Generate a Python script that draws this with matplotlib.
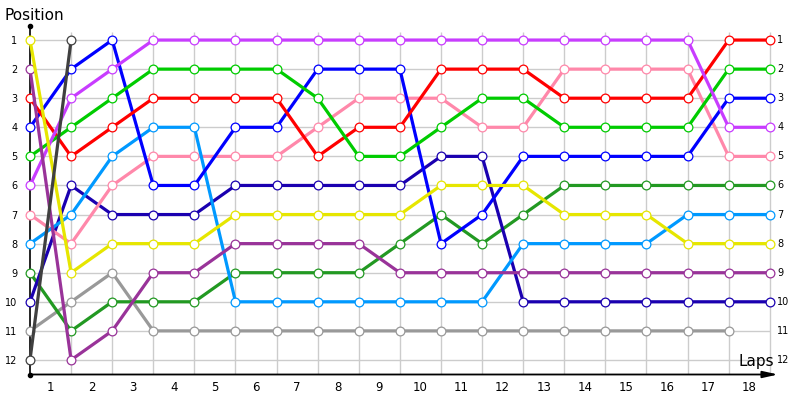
import numpy as np
import matplotlib
matplotlib.use('Agg')
import matplotlib.pyplot as plt

nan = np.nan

# lap 0 = grid position, then position at end of each lap
laps = list(range(0, 19))
lap_labels = [str(k) for k in range(1, 19)]
positions = list(range(1, 13))

yellow = [1, 9, 8, 8, 8, 7, 7, 7, 7, 7, 6, 6, 6, 7, 7, 7, 8, 8, 8]
dark = [12, 1] + [nan] * 17
purple = [2, 12, 11, 9, 9, 8, 8, 8, 8, 9, 9, 9, 9, 9, 9, 9, 9, 9, 9]
magenta = [6, 3, 2, 1, 1, 1, 1, 1, 1, 1, 1, 1, 1, 1, 1, 1, 1, 4, 4]
green = [5, 4, 3, 2, 2, 2, 2, 3, 5, 5, 4, 3, 3, 4, 4, 4, 4, 2, 2]
red = [3, 5, 4, 3, 3, 3, 3, 5, 4, 4, 2, 2, 2, 3, 3, 3, 3, 1, 1]
blue = [4, 2, 1, 6, 6, 4, 4, 2, 2, 2, 8, 7, 5, 5, 5, 5, 5, 3, 3]
darkblue = [10, 6, 7, 7, 7, 6, 6, 6, 6, 6, 5, 5, 10, 10, 10, 10, 10, 10, 10]
lightblue = [8, 7, 5, 4, 4, 10, 10, 10, 10, 10, 10, 10, 8, 8, 8, 8, 7, 7, 7]
pink = [7, 8, 6, 5, 5, 5, 5, 4, 3, 3, 3, 4, 4, 2, 2, 2, 2, 5, 5]
darkgreen = [9, 11, 10, 10, 10, 9, 9, 9, 9, 8, 7, 8, 7, 6, 6, 6, 6, 6, 6]
gray = [11, 10, 9, 11, 11, 11, 11, 11, 11, 11, 11, 11, 11, 11, 11, 11, 11, 11, nan]

series = [
    (gray, '#999999'),
    (darkgreen, '#229922'),
    (darkblue, '#1a00b0'),
    (pink, '#ff88aa'),
    (lightblue, '#0099ff'),
    (blue, '#0000ff'),
    (red, '#ff0000'),
    (green, '#00cc00'),
    (magenta, '#c83cff'),
    (purple, '#993399'),
    (yellow, '#e6e600'),
    (dark, '#404040'),
]

fig = plt.figure(figsize=(8, 4), dpi=100)
ax = fig.add_axes([30 / 800, 1 - 374.5 / 400, 748 / 800, 349 / 400])

ax.set_xlim(0, 18.2)
ax.set_ylim(12.5, 0.5)

# grid
ax.hlines(positions, 0, 18, color='#cccccc', lw=1, zorder=0)
ax.vlines(laps[1:], 0.72, 12.5, color='#cccccc', lw=1, zorder=0)

for values, color in series:
    ax.plot(laps, values, color=color, lw=2.3, marker='o', ms=6.3,
            mfc='white', mec=color, mew=0.9, zorder=3, clip_on=False)

for s in ['top', 'right', 'bottom']:
    ax.spines[s].set_visible(False)
ax.spines['left'].set_linewidth(1.2)

ax.annotate('', xy=(1.0, 0), xytext=(0, 0), xycoords='axes fraction',
            arrowprops=dict(arrowstyle='-|>,head_length=0.9,head_width=0.2',
                            color='black', lw=1.3, shrinkA=0, shrinkB=0))
ax.plot([0, 0], [0.5, 12.5], 'o', color='black', ms=3, clip_on=False, zorder=5)

ax.set_yticks(positions)
ax.set_yticklabels([str(p) for p in positions], fontsize=7)
ax.set_xticks([k - 0.5 for k in range(1, 19)])
ax.set_xticklabels(lap_labels, fontsize=8.5)
ax.tick_params(axis='both', length=0)
ax.tick_params(axis='y', pad=9)
ax.tick_params(axis='x', pad=5)

for p in positions:
    ax.text(18.18, p, str(p), fontsize=7, ha='left', va='center')

fig.text(4 / 800, 1 - 15 / 400, 'Position', fontsize=11, ha='left', va='center')
ax.text(18.1, 12.3, 'Laps', fontsize=11, ha='right', va='bottom')

plt.savefig('out.png', dpi=100)
plt.close('all')
